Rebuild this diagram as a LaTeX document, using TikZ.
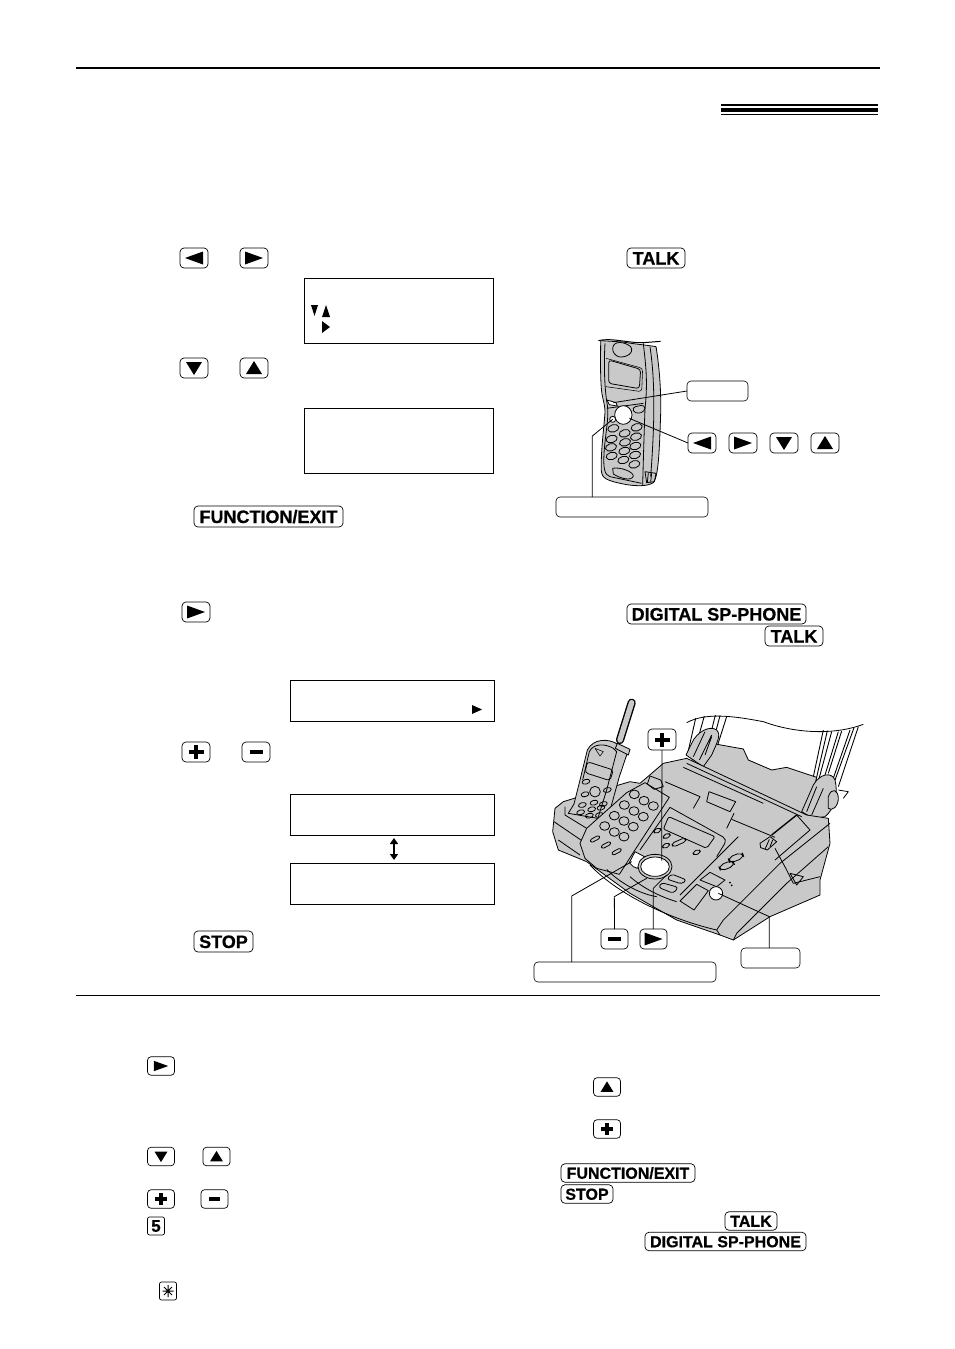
\documentclass[tikz,border=0pt]{standalone}
\usepackage{fontspec}
\setmainfont{Liberation Sans}[BoldFeatures={FakeBold=0.6}]
\usetikzlibrary{arrows.meta}
\definecolor{pgray}{HTML}{C9C9C9}
\tikzset{
 kbtn/.style={draw=black,line width=0.7pt,rounded corners=4pt,fill=white,inner sep=0pt,outer sep=0pt},
 kbig/.style={kbtn,minimum width=28pt,minimum height=20pt},
 ksm/.style={kbtn,minimum width=27pt,minimum height=18.5pt,rounded corners=3.5pt},
 ktxt/.style={kbtn,font=\bfseries\fontsize{18}{18}\selectfont,minimum height=21pt,text height=13pt,text depth=0pt},
 ktxts/.style={kbtn,font=\bfseries\fontsize{16}{16}\selectfont,minimum height=18.5pt,text height=11.5pt,text depth=0pt},
 disp/.style={draw=black,line width=1pt,inner sep=0pt,outer sep=0pt,fill=white},
 blank/.style={kbtn,minimum height=20pt,line width=0.6pt},
 lead/.style={draw=black,line width=0.8pt},
 ol/.style={draw=black,line width=0.8pt,line join=round},
 ols/.style={draw=black,line width=0.55pt,line join=round},
 gr/.style={ol,fill=pgray},
 wh/.style={ol,fill=white},
 rail/.style={draw=black,line width=0.9pt},
}
\newcommand\gleft[2][1]{\fill ([shift={(9*#1,-6.5*#1)}]#2.center) -- ++(0,13*#1) -- ++(-18*#1,-6.5*#1) -- cycle;}
\newcommand\gright[2][1]{\fill ([shift={(-9*#1,-6.5*#1)}]#2.center) -- ++(0,13*#1) -- ++(18*#1,-6.5*#1) -- cycle;}
\newcommand\gdown[2][1]{\fill ([shift={(-8*#1,-6*#1)}]#2.center) -- ++(16*#1,0) -- ++(-8*#1,13*#1) -- cycle;}
\newcommand\gup[2][1]{\fill ([shift={(-8*#1,6*#1)}]#2.center) -- ++(16*#1,0) -- ++(-8*#1,-13*#1) -- cycle;}
\newcommand\gplus[2][1]{\fill ([shift={(-7.5*#1,-2*#1)}]#2.center) rectangle ++(15*#1,4*#1); \fill ([shift={(-2*#1,-7*#1)}]#2.center) rectangle ++(4*#1,14*#1);}
\newcommand\gminus[2][1]{\fill ([shift={(-6.5*#1,-2*#1)}]#2.center) rectangle ++(13*#1,4*#1);}
\begin{document}
\begin{tikzpicture}[x=1pt,y=-1pt]
\useasboundingbox (0,0) rectangle (954,1349);
\fill[white] (0,0) rectangle (954,1349);
% rules
\fill (76,67) rectangle (880,69);
\fill (76,994.6) rectangle (880,995.6);
\fill (721,104) rectangle (878,106);
\fill (721,107.7) rectangle (878,112);
\fill (721,113.7) rectangle (878,115);
% ---------- left column keys
\node[kbig] (a1) at (194,258) {}; \gleft{a1}
\node[kbig] (a2) at (254,258) {}; \gright{a2}
\node[disp,minimum width=189pt,minimum height=65pt] (d1) at (399,311) {};
\fill (311,305) -- (318,305) -- (314.5,316) -- cycle;
\fill (322,317) -- (330,317) -- (326,305) -- cycle;
\fill (322,321) -- (322,333) -- (330,327) -- cycle;
\node[kbig] (a3) at (194,368) {}; \gdown{a3}
\node[kbig] (a4) at (254,368) {}; \gup{a4}
\node[disp,minimum width=189pt,minimum height=65pt] (d2) at (399,441) {};
\node[ktxt,minimum width=149pt] (fe1) at (268.5,516.5) {FUNCTION/EXIT};
\node[kbig] (a5) at (196,612) {}; \gright{a5}
\node[disp,minimum width=204pt,minimum height=41pt] (d3) at (392.5,701) {};
\fill (472,705) -- (472,714) -- (482,709.5) -- cycle;
\node[kbig] (a6) at (196,752) {}; \gplus{a6}
\node[kbig] (a7) at (256,752) {}; \gminus{a7}
\node[disp,minimum width=204pt,minimum height=41pt] (d4) at (392.5,815) {};
\node[disp,minimum width=204pt,minimum height=41pt] (d5) at (392.5,884) {};
\coordinate (da1) at (394,838);
\coordinate (da2) at (394,860);
\draw[line width=2.2pt,{Triangle[width=8pt,length=6pt]}-{Triangle[width=8pt,length=6pt]}] (da1) -- (da2);
\node[ktxt,minimum width=59pt] (st1) at (223.5,941.5) {STOP};
% ---------- right column keys
\node[ktxt,minimum width=58pt,minimum height=20pt] (t1) at (656,258) {TALK};
\node[ktxt,minimum width=179pt,minimum height=20pt] (dg1) at (716.5,614) {DIGITAL SP-PHONE};
\node[ktxt,minimum width=58pt,minimum height=20pt] (t2) at (794,636) {TALK};
% ---------- bottom keys
\node[ksm] (b1) at (161,1066) {}; \gright[.8]{b1}
\node[ksm] (b2) at (161,1156.5) {}; \gdown[.8]{b2}
\node[ksm] (b3) at (216.5,1156.5) {}; \gup[.8]{b3}
\node[ksm] (b4) at (161,1199) {}; \gplus[.8]{b4}
\node[ksm] (b5) at (214.5,1199) {}; \gminus[.8]{b5}
\node[kbtn,minimum width=17pt,minimum height=18pt,rounded corners=2pt,font=\bfseries\fontsize{17}{17}\selectfont] (b6) at (156,1226) {5};
\node[kbtn,minimum width=17pt,minimum height=18pt,rounded corners=2pt] (b7) at (168,1291) {};
\draw[line width=1pt] (b7.center) ++(-5.5,0) -- ++(11,0) (b7.center) ++(0,-6) -- ++(0,12) (b7.center) ++(-4,-4) -- ++(8,8) (b7.center) ++(-4,4) -- ++(8,-8);
\node[ksm] (c1) at (607,1087) {}; \gup[.8]{c1}
\node[ksm] (c2) at (607,1129) {}; \gplus[.8]{c2}
\node[ktxts,minimum width=134pt] (fe2) at (628,1173) {FUNCTION/EXIT};
\node[ktxts,minimum width=52pt] (st2) at (587,1194) {STOP};
\node[ktxts,minimum width=52pt] (t3) at (751,1221) {TALK};
\node[ktxts,minimum width=161pt] (dg2) at (725.5,1241.5) {DIGITAL SP-PHONE};
% ---------- handset drawing
\begin{scope}[shift={(530,320)},x=0.33333pt,y=-0.33333pt]
 \draw[gr] (212,62) .. controls (212,100) and (210,170) .. (215,215) .. controls (218,240) and (228,260) .. (224,290) .. controls (220,340) and (212,400) .. (214,452) .. controls (216,475) and (228,482) .. (290,494) .. controls (320,498) and (350,500) .. (370,488) .. controls (385,470) and (388,400) .. (392,280) .. controls (394,200) and (385,120) .. (378,80) .. controls (350,75) and (310,72) .. (280,66) -- cycle;
 \draw[ol,line width=1pt] (205,62) .. controls (240,52) and (300,70) .. (340,68) -- (392,64);
 \draw[ol] (340,70) .. controls (345,120) and (355,180) .. (345,265) .. controls (342,350) and (340,420) .. (338,495);
 \draw[ol] (360,80) .. controls (375,180) and (375,300) .. (362,470);
 \draw[ol] (225,70) .. controls (222,120) and (222,200) .. (232,255) .. controls (238,290) and (226,340) .. (222,400) .. controls (220,440) and (222,465) .. (240,470) -- (335,490);
 \draw[gr] (248,85) .. controls (250,60) and (285,65) .. (302,80) .. controls (315,100) and (285,115) .. (265,110) .. controls (255,105) and (248,98) .. (248,85) -- cycle;
 \draw[gr,rounded corners=3] (236,120) -- (332,148) -- (328,206) -- (236,190) -- cycle;
 \draw[ols,rounded corners=3] (228,115) -- (338,145) -- (335,215) -- (228,200);
 \draw[wh] (231,240) -- (258,248) -- (262,258) -- (238,254) -- cycle;
 \draw[ol] (230,265) -- (340,250);
 \draw[gr,rounded corners=4] (305,262) -- (345,254) -- (345,275) -- (315,282) -- cycle;
 \draw[ol,fill=white] (280,285) ellipse (26 and 28);
 \draw[ol,fill=white] (248,298) circle (9);
 \foreach \p/\q in {250/325,284/340,320/322,245/357,285/367,318/350,243/382,283/393,316/378,245/408,280/420,315/405,313/433}
  {\draw[ol,rotate around={15:(\p,\q)}] (\p,\q) ellipse (17 and 11);}
 \draw[ol] (248,445) .. controls (270,440) and (310,455) .. (310,468) .. controls (305,485) and (270,475) .. (250,462) -- cycle;
 \draw[ol] (345,455) -- (378,460) -- (373,485) -- (350,488) -- cycle;
 \draw[ol] (355,458) -- (352,488) (365,460) -- (362,486);
 \coordinate (pt1) at (250,248);
 \coordinate (pt2) at (298,295);
 \coordinate (pt3) at (248,298);
 \coordinate (pt3b) at (187,348);
\end{scope}
\node[blank,minimum width=61pt] (p1) at (717.5,391) {};
\node[kbig] (p2) at (702,443) {}; \gleft{p2}
\node[kbig] (p3) at (743,443) {}; \gright{p3}
\node[kbig] (p4) at (784,443) {}; \gdown{p4}
\node[kbig] (p5) at (825,443) {}; \gup{p5}
\node[blank,minimum width=152pt] (p6) at (632,507) {};
\draw[lead] (p1.west) -- (pt1);
\draw[lead] (p2.west) -- (pt2);
\draw[lead] (p6.north -| pt3b) -- (pt3b) -- (pt3);
% ---------- fax drawing
\begin{scope}[shift={(530,680)},x=0.33333pt,y=-0.33333pt]
 % paper & rails
 \draw[ol] (470,128) .. controls (530,95) and (620,110) .. (700,125) .. controls (780,155) and (900,170) .. (1000,133);
 \draw[rail] (497,115) -- (472,225) (523,108) -- (500,190) (556,105) -- (545,150) (590,110) -- (555,220) (570,107) -- (548,190);
 \draw[rail] (880,150) -- (850,290) (892,152) -- (858,300) (905,155) -- (866,300) (925,155) -- (885,285) (935,153) -- (895,280) (985,140) -- (925,320) (972,143) -- (915,300) (960,150) -- (908,300);
 % tray
 \draw[gr] (545,190) -- (640,207) -- (655,240) -- (725,270) -- (770,262) -- (860,292) -- (830,410) -- (480,245) -- cycle;
 % left holder
 \draw[gr] (468,225) -- (485,190) .. controls (500,155) and (540,135) .. (560,150) .. controls (575,165) and (560,190) .. (545,225) -- (520,260) -- cycle;
 \draw[ol] (490,230) -- (525,155) (508,240) -- (545,165) (545,170) -- (525,225);
 % right holder
 \draw[gr] (815,395) -- (850,315) .. controls (870,280) and (905,275) .. (915,300) .. controls (925,340) and (915,385) .. (885,410) -- (850,415) -- cycle;
 \draw[ol] (830,395) -- (860,320) (845,405) -- (880,325);
 \draw[gr] (895,350) .. controls (905,320) and (925,330) .. (925,355) .. controls (925,380) and (905,395) .. (895,385) -- cycle;
 \draw[ol] (925,330) -- (955,335) -- (940,355);
 % main body
 \draw[gr] (400,250) -- (470,235) -- (830,405) -- (895,415) -- (900,490) -- (870,600) -- (870,645) -- (720,710) -- (610,780) -- (570,765) -- (440,720) -- (300,640) -- (170,545) -- (85,510) -- (68,455) -- (75,385) -- (100,365) -- (165,345) -- (300,305) -- (330,310) -- cycle;
 % cradle
 \draw[ol] (105,380) -- (105,405) -- (170,445);
 \draw[ol] (72,425) -- (160,485);
 \draw[ol] (85,480) -- (150,525);
 % antenna
 \draw[line width=8.2pt,line cap=round] (305,68) -- (270,180);
 \draw[line width=5.4pt,pgray,line cap=round] (305,68) -- (270,180);
 % handset
 \draw[gr] (172,210) .. controls (190,175) and (235,175) .. (262,192) -- (298,212) -- (290,225) -- (268,290) -- (232,420) -- (115,400) -- (132,372) -- (150,300) -- cycle;
 \draw[gr] (262,190) -- (300,208) -- (295,225) -- (256,205) -- cycle;
 \draw[ol] (158,300) -- (178,215) .. controls (190,190) and (225,190) .. (250,205) -- (260,215) -- (230,330) -- (205,410);
 \draw[ol,rounded corners=3] (172,245) -- (250,270) -- (240,302) -- (165,278) -- cycle;
 \draw[ols] (195,205) -- (220,215) -- (210,228) -- cycle;
 \draw[gr] (195,335) circle (16);
 \foreach \p/\q in {165/343,192/368,220/372,157/375,185/388,213/383,152/397,178/407,208/405,232/330,168/305}
  {\draw[ol,rotate around={15:(\p,\q)}] (\p,\q) ellipse (12 and 7);}
 % keypad panel
 \draw[gr] (345,308) -- (418,352) -- (318,505) -- (268,583) -- (200,565) -- (165,535) -- (150,490) -- (170,445) -- (290,338) -- cycle;
 \foreach \p/\q in {313/343,342/362,370/378,283/375,312/393,340/410,253/407,282/423,310/440,224/438,253/456,282/470}
  {\draw[ol] (\p,\q) ellipse (15 and 13);}
 \foreach \p/\q in {195/477,228/495,260/515}
  {\draw[ol,rotate around={28:(\p,\q)},rounded corners=2] (\p-15,\q-5) rectangle (\p+15,\q+5);}
 \draw[ol] (360,288) -- (392,300) -- (400,320) -- (372,328) -- (352,312) -- cycle;
 % upper console
 \draw[ol] (405,305) -- (510,350) -- (490,385);
 \draw[ol] (537,335) -- (617,365) -- (600,395) -- (530,365) -- cycle;
 \draw[ol] (612,400) -- (590,445);
 \draw[ol] (605,418) -- (735,472);
 \draw[ol] (470,250) -- (815,410) (460,262) -- (700,370);
 % display panel
 \draw[ol,rounded corners=5] (420,382) -- (592,478) -- (560,530) (420,382) -- (330,510);
 \draw[ol,rounded corners=2] (416,410) -- (555,470) -- (530,505) -- (400,447) -- cycle;
 \foreach \p/\q/\w in {382/452/11,410/468/11,447/487/22,408/497/11,500/517/11}
  {\draw[ol,rotate around={24:(\p,\q)},rounded corners=3] (\p-\w,\q-6) rectangle (\p+\w,\q+6);}
 % lid
 \draw[ol] (800,405) -- (840,450) -- (735,540);
 \draw[line width=1.4pt] (725,465) -- (800,405);
 \draw[gr] (690,490) -- (720,470) -- (740,485) -- (712,510) -- (692,503) -- cycle;
 \draw[ol] (718,478) -- (705,508) (728,480) -- (720,500);
 \draw[ol] (735,505) -- (770,570) -- (790,610) -- (870,590);
 \draw[ol] (780,580) -- (820,590) -- (800,615) -- cycle;
 % front panel
 \draw[ol] (625,470) -- (450,645);
 \foreach \p/\q in {618/533,590/557}
  {\draw[ol,rotate around={22:(\p,\q)},rounded corners=5] (\p-23,\q-9) rectangle (\p+23,\q+9);}
 \draw[ol] (540,577) -- (585,600) -- (560,620) -- (510,600) -- cycle;
 \draw[ol] (500,613) -- (535,632) -- (492,690) -- (450,663) -- cycle;
 \draw[ol,rounded corners=3] (425,582) -- (470,600) -- (455,612) -- (410,597) -- cycle;
 \draw[ol,rounded corners=3] (395,608) -- (445,622) -- (430,640) -- (385,622) -- cycle;
 \fill (600,608) circle (3) (605,616) circle (3);
 \draw[ol] (230,568) .. controls (260,600) and (320,640) .. (380,650) (300,590) .. controls (340,625) and (390,650) .. (440,665);
 \draw[ol] (180,555) .. controls (270,650) and (430,720) .. (560,750);
 % strip along the front
 \draw[ol] (560,750) -- (580,720) -- (750,550) -- (900,430);
 \draw[ol] (610,780) -- (620,760) -- (770,610) -- (895,500);
 \draw[ol] (560,750) -- (570,765);
 % button area
 \draw[ol,fill=white] (298,548) -- (315,515) -- (347,532) -- (322,565) -- (310,560) -- cycle;
 \draw[gr] (375,560) ellipse (51 and 37);
 \draw[ol,fill=white] (375,560) ellipse (43 and 29);
 \draw[ol,fill=white] (558,640) circle (20);
 \coordinate (fa) at (395,542);
 \coordinate (fb) at (305,545);
 \coordinate (fb2) at (125,648);
 \coordinate (fc) at (350,595);
 \coordinate (fc2) at (253,650);
 \coordinate (fd) at (410,585);
 \coordinate (fd2) at (370,625);
 \coordinate (fe) at (565,640);
 \coordinate (fe3) at (718,710);
\end{scope}
\node[kbig,minimum height=21pt] (f1) at (662,739.5) {}; \gplus{f1}
\node[kbig,minimum width=27pt] (f2) at (614.5,939) {}; \gminus{f2}
\node[kbig,minimum width=27pt] (f3) at (653.5,939) {}; \gright{f3}
\node[blank,minimum width=182pt] (f4) at (625,972) {};
\node[blank,minimum width=59pt] (f5) at (770.5,958) {};
\draw[lead] (f1.south) -- (fa);
\draw[lead] (f4.north -| fb2) -- (fb2) -- (fb);
\draw[lead] (f2.north) -- (fc2) -- (fc);
\draw[lead] (f3.north -| fd2) -- (fd2) -- (fd);
\draw[lead] (f5.north -| fe3) -- (fe3) -- (fe);
\end{tikzpicture}
\end{document}
